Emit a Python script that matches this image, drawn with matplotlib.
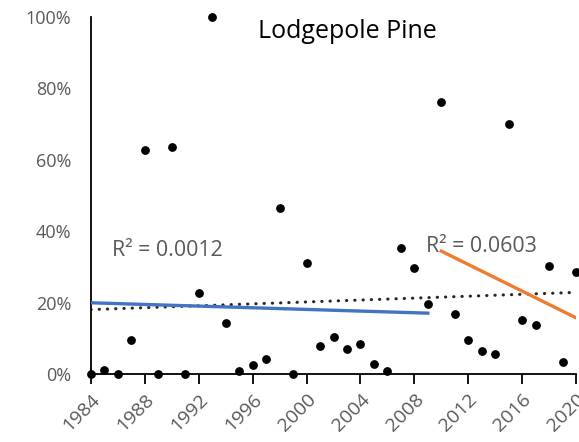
import numpy as np
import matplotlib.pyplot as plt
from matplotlib.ticker import PercentFormatter

plt.rcParams['font.family'] = ['Open Sans', 'DejaVu Sans']

# Annual values (fraction of trees), 1984-2020
years = np.arange(1984, 2021)
values = [0.000, 0.010, 0.000, 0.094, 0.627, 0.000, 0.636, 0.000, 0.226, 1.000,
          0.143, 0.008, 0.025, 0.043, 0.465, 0.000, 0.310, 0.079, 0.103, 0.069,
          0.084, 0.027, 0.008, 0.352, 0.297, 0.196, 0.761, 0.168, 0.096, 0.063,
          0.057, 0.701, 0.150, 0.138, 0.302, 0.034, 0.285]
values = np.array(values)

split_year = 2009
r2_early = "R² = 0.0012"
r2_late = "R² = 0.0603"

fig = plt.figure(figsize=(5.79, 4.42), dpi=100)
ax = fig.add_axes([0.157, 0.154, 0.838, 0.808])

# linear trends: whole period, before and after the split
fit_all = np.polyfit(years, values, 1)
early = years <= split_year
late = years > split_year
fit_early = np.polyfit(years[early], values[early], 1)
fit_late = np.polyfit(years[late], values[late], 1)

xa = np.array([years[0], years[-1]])
ax.plot(xa, np.polyval(fit_all, xa), color='#262626', lw=2.2,
        linestyle=(0, (0.1, 2.6)), dash_capstyle='round', zorder=2)
xe = np.array([years[early][0], years[early][-1]])
ax.plot(xe, np.polyval(fit_early, xe), color='#4472C4', lw=2.4, zorder=3)
xl = np.array([years[late][0], years[late][-1]])
ax.plot(xl, np.polyval(fit_late, xl), color='#ED7D31', lw=2.4, zorder=3)

ax.scatter(years, values, s=28, color='black', zorder=4, clip_on=False)

ax.set_xlim(1984, 2020)
ax.set_ylim(0, 1)
ax.set_xticks(np.arange(1984, 2021, 4))
ax.set_yticks(np.arange(0, 1.01, 0.2))
ax.yaxis.set_major_formatter(PercentFormatter(1.0, decimals=0))

for s in ['top', 'right']:
    ax.spines[s].set_visible(False)
for s in ['left', 'bottom']:
    ax.spines[s].set_linewidth(1.3)
    ax.spines[s].set_color('black')

ax.tick_params(axis='x', direction='out', length=7, width=1.3,
               labelsize=14, labelcolor='#595959', pad=5)
ax.tick_params(axis='y', length=0, labelsize=13, labelcolor='#595959', pad=14)
for lab in ax.get_xticklabels():
    lab.set_rotation(45)
    lab.set_ha('right')
    lab.set_rotation_mode('anchor')

ax.text(2003.0, 0.96, "Lodgepole Pine", fontsize=18, color='black',
        ha='center', va='center')
ax.text(1985.6, 0.346, r2_early, fontsize=15.4, color='#595959',
        ha='left', va='center')
ax.text(2008.85, 0.356, r2_late, fontsize=15.4, color='#595959',
        ha='left', va='center')

fig.savefig('out.png', dpi=100)
